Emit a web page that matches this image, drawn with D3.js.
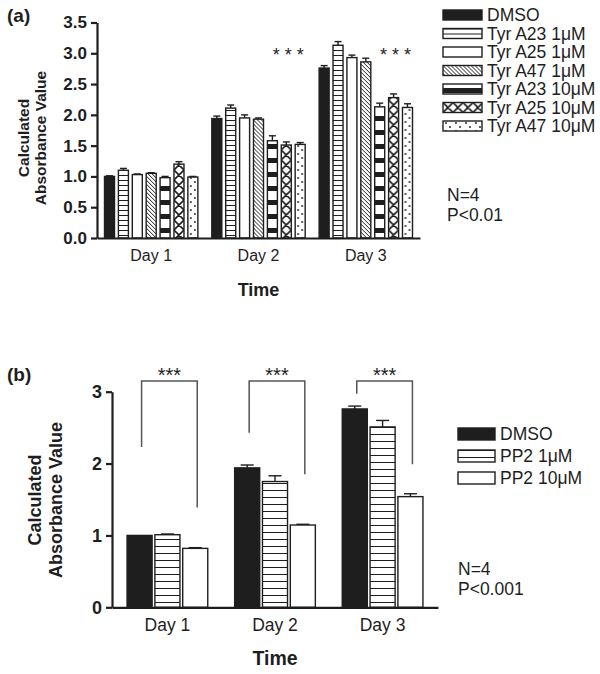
<!DOCTYPE html>
<html><head><meta charset="utf-8">
<script src="https://cdn.jsdelivr.net/npm/d3@7"></script>
<style>
body{margin:0;background:#fff}
svg{display:block}
text{font-family:"Liberation Sans",Arial,Helvetica,sans-serif;fill:#1e1e1e}
</style>
</head><body>
<svg id="chart" width="600" height="674"></svg>
<script>
// ---------- Panel (a) data ----------
const daysA = ["Day 1", "Day 2", "Day 3"];
const seriesA = ["DMSO", "Tyr A23 1μM", "Tyr A25 1μM", "Tyr A47 1μM", "Tyr A23 10μM", "Tyr A25 10μM", "Tyr A47 10μM"];
const dmsoA   = [1.00, 1.94, 2.76];
const a23_1A  = [1.10, 2.11, 3.13];
const a25_1A  = [1.03, 1.95, 2.93];
const a47_1A  = [1.05, 1.93, 2.86];
const a23_10A = [0.98, 1.58, 2.13];
const a25_10A = [1.20, 1.51, 2.28];
const a47_10A = [0.99, 1.52, 2.12];
const errsA = [
  [0.01, 0.04, 0.04],
  [0.03, 0.05, 0.06],
  [0.01, 0.05, 0.04],
  [0.01, 0.02, 0.06],
  [0.02, 0.08, 0.06],
  [0.04, 0.05, 0.06],
  [0.01, 0.03, 0.06]
];
const ticksA = [0, 0.5, 1, 1.5, 2, 2.5, 3, 3.5];
const starDaysA = ["Day 2", "Day 3"];
const statsA = ["N=4", "P<0.01"];

// ---------- Panel (b) data ----------
const daysB = ["Day 1", "Day 2", "Day 3"];
const seriesB = ["DMSO", "PP2 1μM", "PP2 10μM"];
const dmsoB  = [1.00, 1.94, 2.76];
const pp2_1B = [1.01, 1.75, 2.51];
const pp2_10B = [0.82, 1.145, 1.54];
const errsB = [
  [0.00, 0.04, 0.04],
  [0.01, 0.08, 0.09],
  [0.01, 0.01, 0.04]
];
const ticksB = [0, 1, 2, 3];
const bracketTopB = 3.15;
const bracketLeftEndB = [2.23, 2.43, 2.97];
const bracketRightEndB = [1.39, 1.85, 1.99];
const statsB = ["N=4", "P<0.001"];

const meansA = [dmsoA, a23_1A, a25_1A, a47_1A, a23_10A, a25_10A, a47_10A];
const meansB = [dmsoB, pp2_1B, pp2_10B];

const INK = "#1e1e1e";
const svg = d3.select("#chart");
const defs = svg.append("defs");

// ---------- patterns ----------
function pat(id, w, h, build) {
  const p = defs.append("pattern").attr("id", id).attr("patternUnits", "userSpaceOnUse")
    .attr("width", w).attr("height", h);
  p.append("rect").attr("width", w).attr("height", h).attr("fill", "#fff");
  build(p);
}
pat("hs", 40, 5, p => p.append("rect").attr("x", 0).attr("y", 0).attr("width", 40).attr("height", 1).attr("fill", INK));
pat("diag", 4, 4, p => p.append("path").attr("d", "M-1,-1L5,5M-1,3L1,5M3,-1L5,1").attr("stroke", INK).attr("stroke-width", 1));
pat("band", 40, 14, p => p.append("rect").attr("x", 0).attr("y", 4).attr("width", 40).attr("height", 5).attr("fill", INK));
pat("xx", 10, 10, p => p.append("path").attr("d", "M0,0L10,10M10,0L0,10M-1,9L1,11M9,-1L11,1M-1,1L1,-1M9,11L11,9").attr("stroke", INK).attr("stroke-width", 1.6));
pat("dots", 10, 8, p => {
  p.append("circle").attr("cx", 3).attr("cy", 2).attr("r", 0.95).attr("fill", INK);
  p.append("circle").attr("cx", 7).attr("cy", 6).attr("r", 0.95).attr("fill", INK);
});
pat("hsB", 60, 7, p => p.append("rect").attr("x", 0).attr("y", 0).attr("width", 60).attr("height", 1).attr("fill", INK));

const fillsA = [INK, "url(#hs)", "#fff", "url(#diag)", "url(#band)", "url(#xx)", "url(#dots)"];
const fillsB = [INK, "url(#hsB)", "#fff"];

// ---------- generic drawing ----------
function drawPanel(cfg) {
  const g = svg.append("g");
  const x = d3.scaleBand().domain(cfg.days).range(cfg.xr).paddingInner(cfg.pin).paddingOuter(cfg.pout);
  const xi = d3.scaleBand().domain(d3.range(cfg.series.length)).range([0, x.bandwidth()]).paddingInner(cfg.pii);
  const y = d3.scaleLinear().domain([0, cfg.ymax]).range(cfg.yr);
  const bw = xi.bandwidth();

  const flat = [];
  cfg.means.forEach((arr, s) => arr.forEach((m, d) => flat.push({s, d, m, e: cfg.errs[s][d]})));

  const bars = g.selectAll("g.bar").data(flat).join("g").attr("class", "bar")
    .attr("transform", b => `translate(${x(cfg.days[b.d]) + xi(b.s)},0)`);
  bars.filter(b => b.e > 0).append("line")
    .attr("x1", bw / 2).attr("x2", bw / 2)
    .attr("y1", b => y(b.m)).attr("y2", b => y(b.m + b.e))
    .attr("stroke", INK).attr("stroke-width", 1.4);
  bars.filter(b => b.e > 0).append("line")
    .attr("x1", bw / 2 - cfg.cap / 2).attr("x2", bw / 2 + cfg.cap / 2)
    .attr("y1", b => y(b.m + b.e)).attr("y2", b => y(b.m + b.e))
    .attr("stroke", INK).attr("stroke-width", 1.4);
  bars.append("rect")
    .attr("x", 0).attr("y", b => y(b.m))
    .attr("width", bw).attr("height", b => y(0) - y(b.m))
    .attr("fill", b => cfg.fills[b.s])
    .attr("stroke", INK).attr("stroke-width", 1.4);

  // y axis
  const ya = g.append("g").attr("transform", `translate(${cfg.xr[0]},0)`)
    .call(d3.axisLeft(y).tickValues(cfg.ticks).tickFormat(cfg.fmt).tickSize(6).tickSizeOuter(0).tickPadding(4));
  ya.select(".domain").attr("stroke", INK).attr("stroke-width", 2.2);
  ya.selectAll(".tick line").attr("stroke", INK).attr("stroke-width", 2.2);
  ya.selectAll(".tick text").attr("font-size", cfg.tickFs).attr("font-weight", "bold")
    .attr("font-family", "'Liberation Sans',Arial,sans-serif").attr("fill", INK);

  // x axis
  const xa = g.append("g").attr("transform", `translate(0,${cfg.yr[0]})`)
    .call(d3.axisBottom(x).tickSize(0).tickSizeOuter(0).tickPadding(cfg.xpad));
  xa.select(".domain").attr("stroke", INK).attr("stroke-width", 2.2);
  xa.selectAll(".tick text").attr("font-size", cfg.xFs)
    .attr("font-family", "'Liberation Sans',Arial,sans-serif").attr("fill", INK);

  // axis titles
  g.append("text").attr("x", (cfg.xr[0] + cfg.xr[1]) / 2).attr("y", cfg.timeY)
    .attr("text-anchor", "middle").attr("font-size", cfg.timeFs).attr("font-weight", "bold").text("Time");
  const yl = g.append("text").attr("transform", `translate(0,${cfg.ylabY}) rotate(-90)`)
    .attr("text-anchor", "middle").attr("font-size", cfg.ylabFs).attr("font-weight", "bold");
  yl.append("tspan").attr("x", 0).attr("y", cfg.ylabX1).text("Calculated");
  yl.append("tspan").attr("x", 0).attr("y", cfg.ylabX2).text("Absorbance Value");

  // panel letter
  g.append("text").attr("x", 7).attr("y", cfg.letterY).attr("font-size", 19).attr("font-weight", "bold").text(cfg.letter);

  // legend
  const lg = g.selectAll("g.leg").data(cfg.series).join("g").attr("class", "leg")
    .attr("transform", (d, i) => `translate(${cfg.legX},${cfg.legY + i * cfg.legStep - cfg.swH / 2})`);
  lg.append("rect").attr("x", 0).attr("y", 0).attr("width", cfg.swW).attr("height", cfg.swH)
    .attr("fill", (d, i) => cfg.fills[i]).attr("stroke", INK).attr("stroke-width", 1.4);
  lg.append("text").attr("x", cfg.legTx).attr("y", cfg.swH / 2).attr("dy", "0.36em")
    .attr("font-size", cfg.legFs).text(d => d);

  // stats
  g.selectAll("text.stat").data(cfg.stats).join("text").attr("class", "stat")
    .attr("x", cfg.statX).attr("y", (d, i) => cfg.statY + i * cfg.statStep).attr("dy", "0.36em")
    .attr("font-size", cfg.legFs).text(d => d);

  return {g, x, xi, y, bw};
}

// ---------- panel (a) ----------
const A = drawPanel({
  days: daysA, series: seriesA, means: meansA, errs: errsA, fills: fillsA,
  xr: [97, 420], yr: [238, 22.5], ymax: 3.5, pin: 0.13, pout: 0.07, pii: 0.28, cap: 7,
  ticks: ticksA, fmt: d3.format(".1f"), tickFs: 17, xFs: 16, xpad: 12,
  timeY: 296, timeFs: 18, ylabY: 138, ylabFs: 15.5, ylabX1: 28.5, ylabX2: 45.5,
  letter: "(a)", letterY: 22,
  legX: 443, legY: 15, legStep: 18.5, swW: 39, swH: 10, legTx: 44, legFs: 17.5,
  stats: statsA, statX: 447, statY: 195, statStep: 20
});
A.g.selectAll("text.stars").data(starDaysA).join("text").attr("class", "stars")
  .attr("x", d => A.x(d) + A.xi(4) + (A.xi(6) + A.bw - A.xi(4)) / 2 + 2)
  .attr("y", 61).attr("text-anchor", "middle").attr("font-size", 18).attr("fill", "#3a3a3a")
  .text("* * *");

// ---------- panel (b) ----------
const B = drawPanel({
  days: daysB, series: seriesB, means: meansB, errs: errsB, fills: fillsB,
  xr: [112, 438], yr: [607.3, 391.7], ymax: 3, pin: 0.25, pout: 0.14, pii: 0.1, cap: 13,
  ticks: ticksB, fmt: d3.format("d"), tickFs: 18, xFs: 17.5, xpad: 11,
  timeY: 665, timeFs: 19.5, ylabY: 500, ylabFs: 18, ylabX1: 41, ylabX2: 62,
  letter: "(b)", letterY: 381,
  legX: 458, legY: 434, legStep: 22, swW: 37, swH: 12, legTx: 42, legFs: 17.5,
  stats: statsB, statX: 458, statY: 569, statStep: 20
});
const br = daysB.map((d, i) => ({d, l: bracketLeftEndB[i], r: bracketRightEndB[i]}));
const bg = B.g.selectAll("g.br").data(br).join("g").attr("class", "br");
bg.append("path")
  .attr("d", b => {
    const xl = B.x(b.d) + B.xi(0) + B.bw / 2 + 2;
    const xr = B.x(b.d) + B.xi(2) + B.bw / 2 + 2;
    return `M${xl},${B.y(b.l)}V${B.y(bracketTopB)}H${xr}V${B.y(b.r)}`;
  })
  .attr("fill", "none").attr("stroke", "#555").attr("stroke-width", 1.5);
bg.append("text")
  .attr("x", b => B.x(b.d) + B.xi(1) + B.bw / 2 + 2)
  .attr("y", B.y(bracketTopB) + 1).attr("text-anchor", "middle")
  .attr("font-size", 20).attr("fill", "#3a3a3a").text("***");
</script>
</body></html>
